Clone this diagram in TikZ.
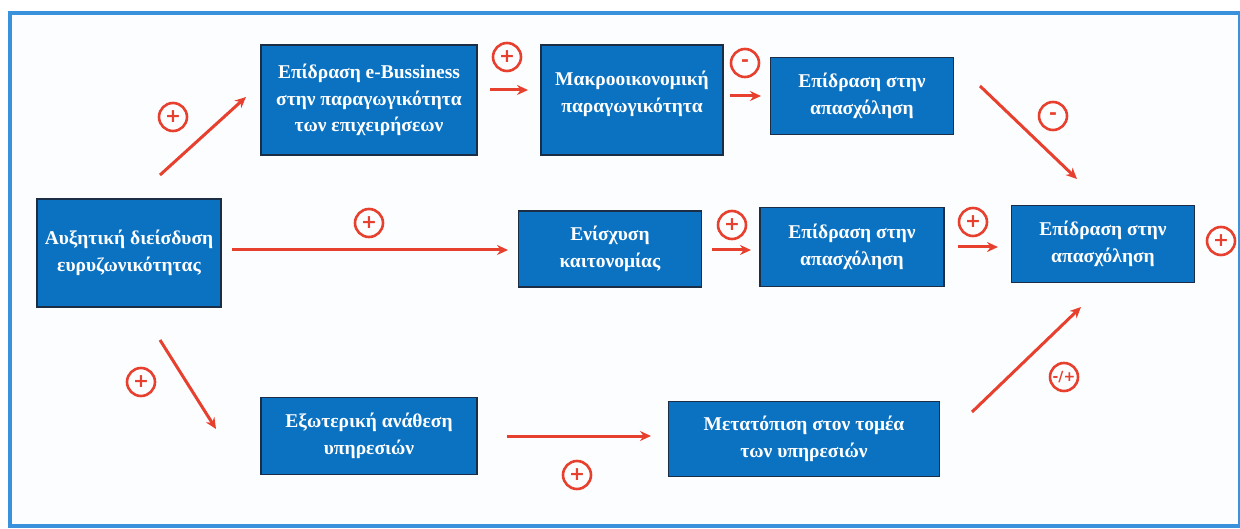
\documentclass[tikz,border=0pt]{standalone}
\usepackage{fontspec}
\setmainfont{Liberation Serif}
\newfontfamily\signfont{DejaVu Sans}
\usetikzlibrary{arrows.meta}
\definecolor{boxblue}{HTML}{0B72C2}
\definecolor{boxedge}{HTML}{1C2E45}
\definecolor{framblue}{HTML}{3A92DC}
\definecolor{sigred}{HTML}{E8402E}
\tikzset{
  box/.style={draw=boxedge, line width=1.3pt, fill=boxblue, text=white,
    font=\bfseries\fontsize{19.5}{26.5}\selectfont, align=center, inner sep=0pt},
  arr/.style={draw=sigred, line width=3pt, -{Stealth[length=11pt,width=10pt]}},
  sign/.style={circle, draw=sigred, line width=2.6pt, text=sigred, minimum size=28pt,
    inner sep=0pt, font=\signfont\bfseries\fontsize{19}{19}\selectfont},
  smallsign/.style={sign, font=\signfont\bfseries\fontsize{14}{14}\selectfont}
}
\begin{document}
\begin{tikzpicture}[x=1pt,y=-1pt]
\useasboundingbox (0,0) rectangle (1240,529);
% frame
\draw[draw=framblue, line width=3.5pt, fill={rgb,255:red,251;green,253;blue,255}] (10,13) rectangle (1240,526);

% boxes
\node[box, minimum width=184pt, minimum height=108pt] (A) at (129,253) {Αυξητική διείσδυση\\ευρυζωνικότητας};
\node[box, minimum width=216pt, minimum height=110pt] (B) at (369,100) {Επίδραση e-Bussiness\\στην παραγωγικότητα\\των επιχειρήσεων};
\node[box, minimum width=182pt, minimum height=110pt] (C) at (632,100) {};
\node[text=white, font=\bfseries\fontsize{19.5}{26.5}\selectfont, align=center] (Ct) at (632,94) {Μακροοικονομική\\παραγωγικότητα};
\node[box, minimum width=183pt, minimum height=77pt] (D) at (862,96) {Επίδραση στην\\απασχόληση};
\node[box, minimum width=183pt, minimum height=76pt] (E) at (610,249) {Ενίσχυση\\καιτονομίας};
\node[box, minimum width=184pt, minimum height=79pt] (F) at (852,247) {Επίδραση στην\\απασχόληση};
\node[box, minimum width=183pt, minimum height=77pt] (G) at (1103,244) {Επίδραση στην\\απασχόληση};
\node[box, minimum width=216pt, minimum height=77pt] (H) at (369,436) {Εξωτερική ανάθεση\\υπηρεσιών};
\node[box, minimum width=271pt, minimum height=75pt] (I) at (804,439) {Μετατόπιση στον τομέα\\των υπηρεσιών};

% connector end points
\coordinate (ab1) at (160,175);  \coordinate (ab2) at (246,97);
\coordinate (bc1) at (490,90);   \coordinate (bc2) at (528,90);
\coordinate (cd1) at (730,96);   \coordinate (cd2) at (761,96);
\coordinate (dg1) at (980,86);   \coordinate (dg2) at (1077,179);
\coordinate (ae1) at (232,250);  \coordinate (ae2) at (508,250);
\coordinate (ef1) at (712,250);  \coordinate (ef2) at (751,250);
\coordinate (fg1) at (958,247);  \coordinate (fg2) at (998,247);
\coordinate (ah1) at (160,340);  \coordinate (ah2) at (216,429);
\coordinate (hi1) at (507,436);  \coordinate (hi2) at (651,436);
\coordinate (ig1) at (972,412);  \coordinate (ig2) at (1081,307);

\draw[arr] (ab1) -- (ab2);
\draw[arr] (bc1) -- (bc2);
\draw[arr] (cd1) -- (cd2);
\draw[arr] (dg1) -- (dg2);
\draw[arr] (ae1) -- (ae2);
\draw[arr] (ef1) -- (ef2);
\draw[arr] (fg1) -- (fg2);
\draw[arr] (ah1) -- (ah2);
\draw[arr] (hi1) -- (hi2);
\draw[arr] (ig1) -- (ig2);

% signs of the effects
\node[sign] (s1) at (173,117) {+};
\node[sign] (s2) at (507,57) {+};
\node[sign] (s3) at (745,63) {-};
\node[sign] (s4) at (1053,116) {-};
\node[sign] (s5) at (369,223) {+};
\node[sign] (s6) at (732,225) {+};
\node[sign] (s7) at (973,222) {+};
\node[sign] (s8) at (1221,241) {+};
\node[sign] (s9) at (141,382) {+};
\node[sign] (s10) at (577,475) {+};
\node[smallsign] (s11) at (1064,377) {-/+};
\end{tikzpicture}
\end{document}
